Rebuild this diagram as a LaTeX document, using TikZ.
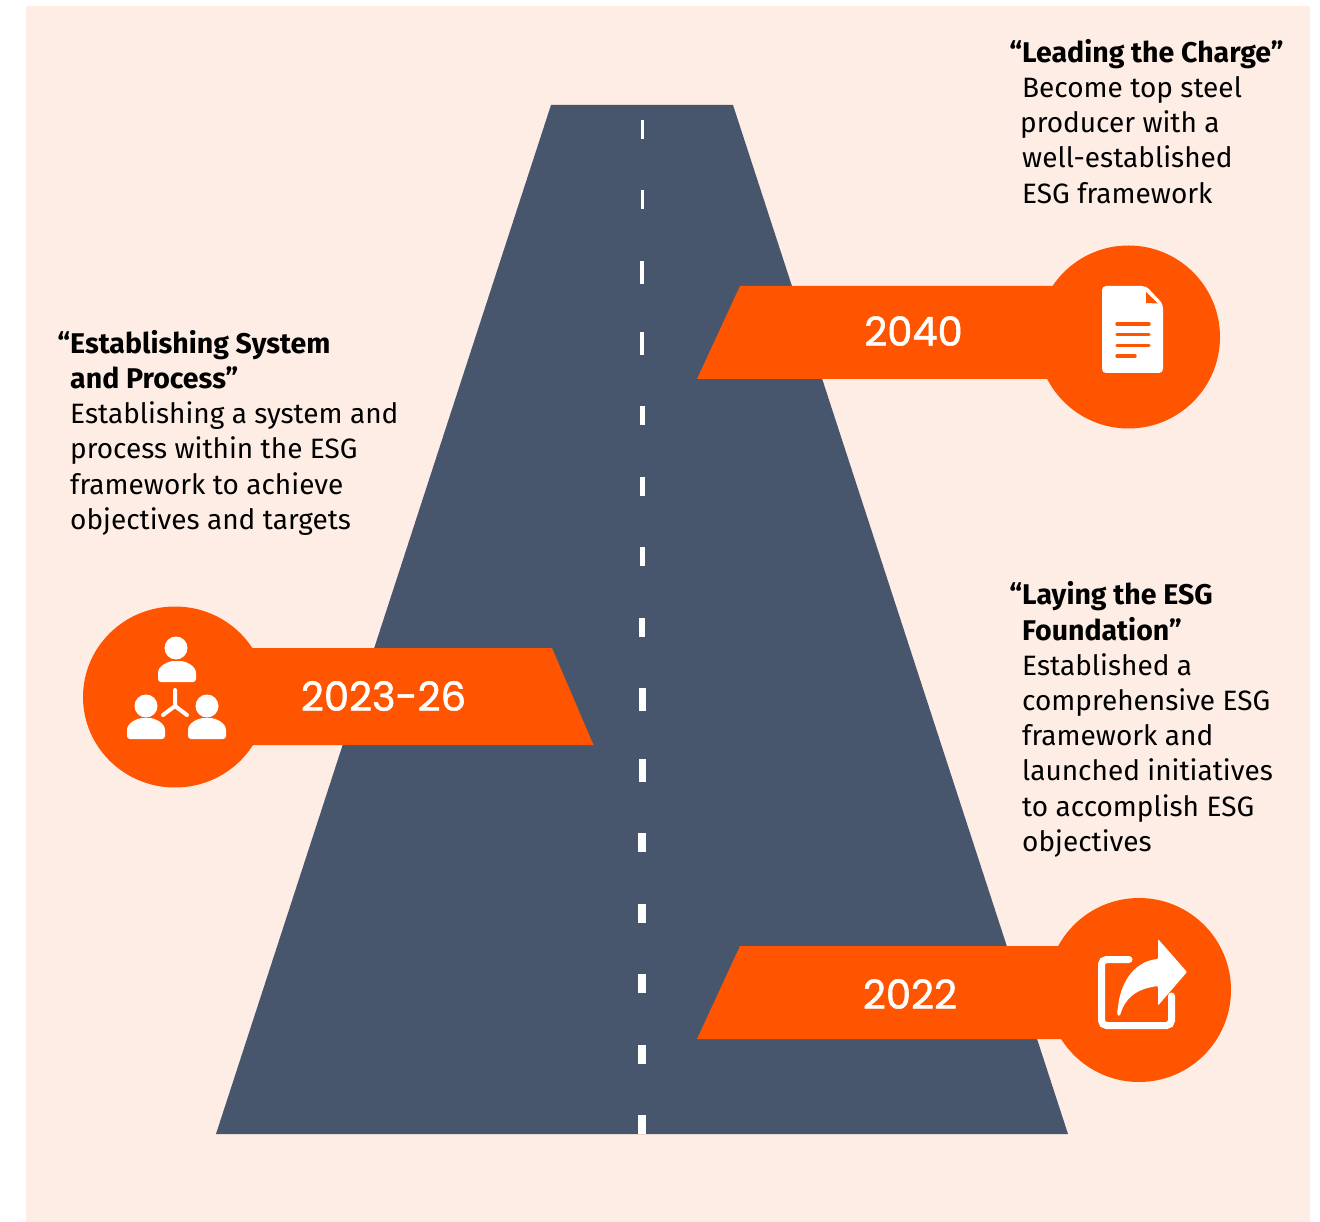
\documentclass[tikz,border=0pt]{standalone}
\usepackage{fontspec}
\setmainfont{Fira Sans}
\newfontfamily\yearfont[FakeBold=1.3]{Poppins}

\definecolor{roadblue}{HTML}{48566D}
\definecolor{ribbonorange}{HTML}{FF5500}
\definecolor{paperpink}{HTML}{FEEDE5}

\newcommand{\goaltitle}[1]{{\fontsize{28.5}{35.2}\selectfont\bfseries #1}}

\tikzset{
    goaltext/.style={anchor=north west, align=left, inner sep=0pt, font=\fontsize{28}{35.2}\selectfont, text=black},
    yearlabel/.style={text=white, inner sep=0pt, font=\yearfont\fontsize{40}{42}\selectfont},
    iconline/.style={line width=3.4pt, ribbonorange, line cap=round},
}

\begin{document}
\begin{tikzpicture}[x=1pt, y=-1pt]

    % Page and background
    \fill[white] (0,0) rectangle (1320,1222);
    \useasboundingbox (0,0) rectangle (1320,1222);
    \fill[paperpink] (26,6) rectangle (1310,1222);

    % Road
    \fill[roadblue] (551,105) -- (733,105) -- (1068,1134) -- (216,1134) -- cycle;

    % Centre line
    \fill[white] (640.5,120) rectangle (643.5,139);
    \fill[white] (640.5,190) rectangle (643.5,209);
    \fill[white] (640,261) rectangle (644,284);
    \fill[white] (640,332) rectangle (644,355);
    \fill[white] (639.5,406) rectangle (644.5,425);
    \fill[white] (639.5,477) rectangle (644.5,496);
    \fill[white] (639.5,547) rectangle (644.5,566);
    \fill[white] (639,618) rectangle (645,637);
    \fill[white] (638.5,688) rectangle (645.5,711);
    \fill[white] (638.5,759) rectangle (645.5,782);
    \fill[white] (638,833) rectangle (646,852);
    \fill[white] (638,904) rectangle (646,923);
    \fill[white] (638,974) rectangle (646,993);
    \fill[white] (638,1045) rectangle (646,1064);
    \fill[white] (638,1115) rectangle (646,1134);

    % Ribbons with their circles
    \fill[ribbonorange] (740,286) -- (1070,286) -- (1070,379) -- (697,379) -- cycle;
    \fill[ribbonorange] (1128.5,337) circle (91.5);
    \fill[ribbonorange] (552,648) -- (240,648) -- (240,745) -- (593.5,745) -- cycle;
    \fill[ribbonorange] (175,697) ellipse (92 and 90.5);
    \fill[ribbonorange] (740,946) -- (1080,946) -- (1080,1039) -- (697,1039) -- cycle;
    \fill[ribbonorange] (1139,990) circle (92);

    % Years
    \node[yearlabel] (year2040) at (913.5,331) {2040};
    \node[yearlabel] (year2023) at (383.5,696) {2023-26};
    \node[yearlabel] (year2022) at (910,994) {2022};

    % Document icon
    \fill[white, rounded corners=4pt] (1102,286) -- (1146,286) -- (1163,304) -- (1163,373) -- (1102,373) -- cycle;
    \fill[ribbonorange] (1146,292) -- (1146,303) -- (1158,303.5) -- cycle;
    \draw[iconline] (1117,324) -- (1149,324);
    \draw[iconline] (1117,334.5) -- (1149,334.5);
    \draw[iconline] (1117,345.5) -- (1149,345.5);
    \draw[iconline] (1117,356) -- (1135,356);

    % People icon
    \fill[white] (176,648) circle (11.5);
    \fill[white] (146,706) circle (11.5);
    \fill[white] (207,706) circle (11.5);
    \fill[white, rounded corners=3pt] (158,682) -- (158,676) .. controls (158,666) and (168,661) .. (177,661) .. controls (186,661) and (196,666) .. (196,676) -- (196,682) -- cycle;
    \fill[white, rounded corners=3pt] (127,739) -- (127,733) .. controls (127,723) and (137,718) .. (146,718) .. controls (155,718) and (165,723) .. (165,733) -- (165,739) -- cycle;
    \fill[white, rounded corners=3pt] (188,739) -- (188,733) .. controls (188,723) and (198,718) .. (207,718) .. controls (216,718) and (226,723) .. (226,733) -- (226,739) -- cycle;
    \draw[white, line width=4pt, line cap=round, line join=round] (175,690) -- (175,706) -- (163,715);
    \draw[white, line width=4pt, line cap=round, line join=round] (175,706) -- (187,715);

    % Share icon
    \draw[white, line width=7pt, line cap=round, rounded corners=5pt] (1129,959.5) -- (1101.5,959.5) -- (1101.5,1025.5) -- (1171.5,1025.5) -- (1171.5,996);
    \fill[white, rounded corners=1pt] (1158,939) -- (1187,972) -- (1158,1005.5) -- (1158,986) .. controls (1136,989) and (1125,998) .. (1120,1015.5) .. controls (1117,1016) and (1117,1012) .. (1118,1007) .. controls (1121,980) and (1136,961) .. (1158,959) -- cycle;

    % Texts
    \node[goaltext] (charge) at (1022,39) {\llap{\goaltitle{“}}\goaltitle{Leading the Charge”}\\Become top steel\\\hspace*{-2pt}producer with a\\well-established\\ESG framework};
    \node[goaltext] (system) at (70,330) {\llap{\goaltitle{“}}\goaltitle{Establishing System}\\\goaltitle{and Process”}\\Establishing a system and\\process within the ESG\\framework to achieve\\objectives and targets};
    \node[goaltext] (foundation) at (1022,581.5) {\llap{\goaltitle{“}}\goaltitle{Laying the ESG}\\\goaltitle{Foundation”}\\Established a\\comprehensive ESG\\framework and\\launched initiatives\\to accomplish ESG\\objectives};

\end{tikzpicture}
\end{document}
